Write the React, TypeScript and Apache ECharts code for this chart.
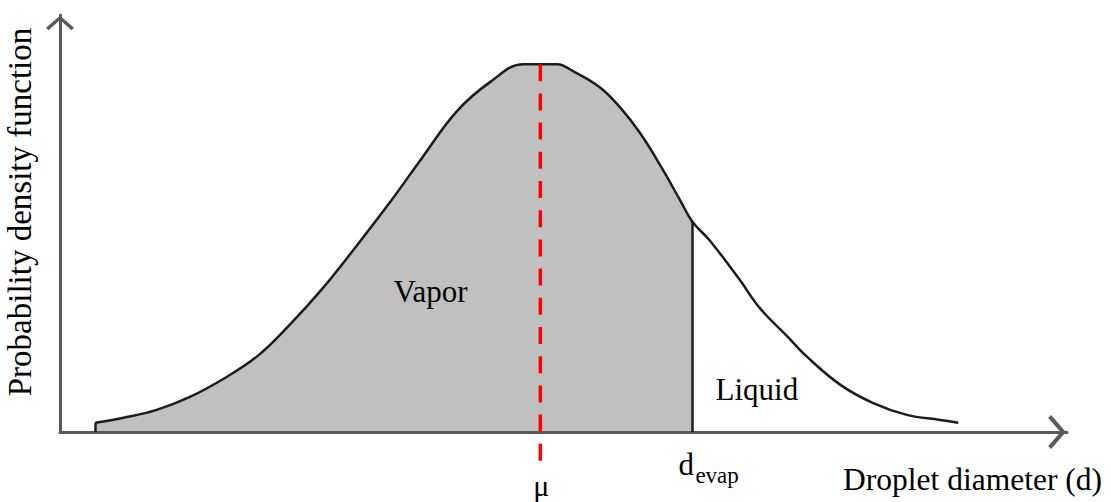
import React, { useEffect, useRef } from 'react';
import * as echarts from 'echarts';

// Droplet size distribution (arbitrary units)
const diameter = [3.5, 6.3, 9.6, 12.9, 16.2, 19.6, 22.8, 26.1, 29.5, 32.8, 36.0, 39.4, 42.7, 46.0, 47.7, 49.4, 50.9, 53.6, 55.6, 57.6, 59.6, 61.6, 62.8, 64.5, 67.5, 69.5, 72.2, 74.2, 77.5, 80.7, 84.1, 87.4, 89.2];
const density = [0.022, 0.034, 0.053, 0.084, 0.127, 0.182, 0.257, 0.345, 0.448, 0.552, 0.659, 0.769, 0.839, 0.882, 0.882, 0.882, 0.866, 0.827, 0.779, 0.717, 0.640, 0.555, 0.504, 0.460, 0.365, 0.297, 0.230, 0.180, 0.113, 0.070, 0.041, 0.029, 0.022];

const mu = 47.7;
const dEvap = 62.8;
const xRange = [0, 100];
const yRange = [0, 1];

const regionNames = ['Vapor', 'Liquid'];
const axisTitles = ['Droplet diameter (d)', 'Probability density function'];

const FONT = '"Liberation Serif", "Times New Roman", serif';
const AXIS_COLOR = '#5a5a5a';
const CURVE_COLOR = '#1c1c1c';
const FS = 31;

// open chevron pointing up; echarts rotates it to the end of each axis
const CHEVRON = 'path://M0,13 L15,0 L30,13 L27.4,15.6 L15,4.6 L2.6,15.6 Z';

function axisBase(size: number[]) {
  return {
    type: 'value',
    z: 3,
    axisLine: {
      show: true,
      onZero: false,
      lineStyle: { color: AXIS_COLOR, width: 3 },
      symbol: ['none', CHEVRON],
      symbolSize: size,
      symbolOffset: [0, -size[1] / 2],
    },
    axisTick: { show: false },
    axisLabel: { show: false },
    splitLine: { show: false },
  };
}

export default function App() {
  const ref = useRef<HTMLDivElement>(null);

  useEffect(() => {
    document.body.style.margin = '0';
    const chart = echarts.init(ref.current!, null, { renderer: 'svg' });

    const curve = diameter.map((d, i) => [d, density[i]]);
    const vapor = curve.filter((p) => p[0] <= dEvap);
    const peakAtMu = density[diameter.indexOf(mu)];
    const yEvap = density[diameter.indexOf(dEvap)];

    chart.setOption({
      animation: false,
      backgroundColor: '#ffffff',
      grid: { left: 60, right: 44, top: 15, bottom: 70 },
      xAxis: { ...axisBase([34, 20]), min: xRange[0], max: xRange[1] },
      yAxis: { ...axisBase([28, 16]), min: yRange[0], max: yRange[1] },
      series: [
        {
          type: 'line',
          data: vapor,
          smooth: 0.4,
          symbol: 'none',
          lineStyle: { width: 0 },
          areaStyle: { color: '#c0c0c0', opacity: 1 },
          z: 1,
          silent: true,
        },
        {
          type: 'line',
          data: curve,
          smooth: 0.4,
          symbol: 'none',
          lineStyle: { color: CURVE_COLOR, width: 2.5 },
          z: 2,
          silent: true,
          markLine: {
            silent: true,
            symbol: 'none',
            label: { show: false },
            lineStyle: { color: CURVE_COLOR, width: 2.5, type: 'solid' },
            data: [
              [{ coord: [diameter[0], 0] }, { coord: [diameter[0], density[0]] }],
              [{ coord: [dEvap, 0] }, { coord: [dEvap, yEvap] }],
            ],
          },
        },
        {
          type: 'line',
          data: [[mu, peakAtMu], [mu, -0.072]],
          clip: false,
          symbol: 'none',
          silent: true,
          lineStyle: { color: '#ff0000', width: 3.5, type: [17, 12.2] },
          z: 5,
        },
      ],
    });

    const toPx = (x: number, y: number) => chart.convertToPixel({ gridIndex: 0 }, [x, y]) as number[];
    const origin = toPx(xRange[0], yRange[0]);
    const xEnd = toPx(xRange[1], yRange[0]);
    const vaporPos = toPx(36.8, 0.337);
    const liquidPos = toPx(69.2, 0.103);
    const muPos = toPx(mu, 0);
    const evapPos = toPx(dEvap, 0);

    const txt = (x: number, y: number, text: string, align: string, size = FS, extra: any = {}) => ({
      type: 'text',
      x,
      y,
      z: 100,
      silent: true,
      ...extra,
      style: { text, fill: '#000', font: `${size}px ${FONT}`, align, verticalAlign: 'middle' },
    });

    chart.setOption({
      graphic: [
        txt(vaporPos[0], vaporPos[1], regionNames[0], 'center'),
        txt(liquidPos[0], liquidPos[1], regionNames[1], 'center'),
        txt(muPos[0] + 1, muPos[1] + 53, 'μ', 'center', 30),
        txt(evapPos[0] - 14, evapPos[1] + 32, 'd', 'left'),
        txt(evapPos[0] + 3, evapPos[1] + 43, 'evap', 'left', 23),
        txt(xEnd[0] + 35, origin[1] + 47.5, axisTitles[0], 'right', 31.5),
        txt(origin[0] - 40, 212, axisTitles[1], 'center', 33, { rotation: Math.PI / 2 }),
      ],
    });

    return () => chart.dispose();
  }, []);

  return <div ref={ref} style={{ width: 1111, height: 502 }} />;
}
